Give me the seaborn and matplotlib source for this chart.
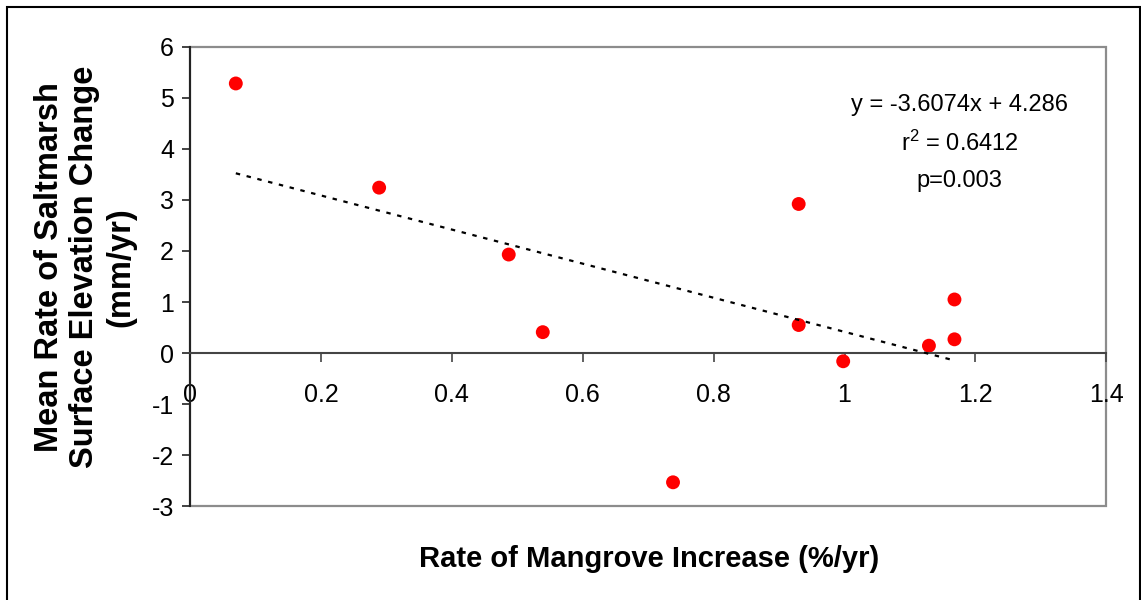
import numpy as np
import pandas as pd
import matplotlib
matplotlib.use("Agg")
import matplotlib.pyplot as plt
from matplotlib.patches import Rectangle
import seaborn as sns

# ---- data ----
mangrove_rate = [0.07, 0.289, 0.487, 0.539, 0.738, 0.93, 0.93, 0.998, 1.129, 1.168, 1.168]
elev_change = [5.28, 3.24, 1.93, 0.41, -2.53, 2.92, 0.55, -0.16, 0.145, 1.05, 0.27]
x_ticks = [0, 0.2, 0.4, 0.6, 0.8, 1.0, 1.2, 1.4]
x_tick_labels = ["0", "0.2", "0.4", "0.6", "0.8", "1", "1.2", "1.4"]
y_ticks = [-3, -2, -1, 0, 1, 2, 3, 4, 5, 6]
y_tick_labels = ["-3", "-2", "-1", "0", "1", "2", "3", "4", "5", "6"]
annot_lines = ["y = -3.6074x + 4.286", "r$^2$ = 0.6412", "p=0.003"]
x_label = "Rate of Mangrove Increase (%/yr)"
y_label = "Mean Rate of Saltmarsh\nSurface Elevation Change\n(mm/yr)"

df = pd.DataFrame({"x": mangrove_rate, "y": elev_change})

sns.set_theme(style="white")
plt.rcParams["font.family"] = ["Liberation Sans", "DejaVu Sans"]
plt.rcParams["mathtext.fontset"] = "custom"
plt.rcParams["mathtext.rm"] = "Liberation Sans"
plt.rcParams["mathtext.it"] = "Liberation Sans"
plt.rcParams["axes.unicode_minus"] = False

W, H = 1141, 600
fig = plt.figure(figsize=(W / 100, H / 100), dpi=100)
fig.patch.set_facecolor("white")
ax = fig.add_axes([190 / W, 1 - 506.3 / H, 916.3 / W, 459.6 / H])

# regression trend line (dotted) and points
sns.regplot(data=df, x="x", y="y", scatter=False, ci=None, truncate=True, ax=ax,
            line_kws=dict(color="black", lw=1.6, ls=(0, (2, 3)), zorder=3))
sns.scatterplot(data=df, x="x", y="y", color="#ff0000", s=100, edgecolor="none",
                ax=ax, zorder=2)

ax.set_xlim(0, 1.4)
ax.set_ylim(-3, 6)
ax.set_xticks(x_ticks)
ax.set_xticklabels(x_tick_labels)
ax.set_yticks(y_ticks)
ax.set_yticklabels(y_tick_labels)

# plot-area frame (gray) and axes lines
ax.patch.set_edgecolor("#8c8c8c")
ax.patch.set_linewidth(1.6)
for s in ("top", "right"):
    ax.spines[s].set_visible(False)
ax.spines["left"].set_color("#222222")
ax.spines["left"].set_linewidth(1.5)
ax.spines["bottom"].set_position(("data", 0))
ax.spines["bottom"].set_color("#444444")
ax.spines["bottom"].set_linewidth(1.5)

ax.tick_params(axis="x", direction="out", length=6.5, width=1.2, color="#444444",
               pad=15, labelsize=18, labelcolor="black", bottom=True)
ax.tick_params(axis="y", direction="out", length=5.5, width=1.2, color="#222222",
               pad=6, labelsize=18, labelcolor="black", left=True)

ax.set_xlabel(x_label, fontsize=21, fontweight="bold", color="black")
ax.xaxis.set_label_coords(0.501, -0.115)
ax.xaxis.label.set_verticalalignment("center")

ax.set_ylabel(y_label, fontsize=23.5, fontweight="bold", color="black",
              linespacing=1.2, multialignment="center")
ax.yaxis.set_label_coords(-0.1146, 0.52)
ax.yaxis.label.set_verticalalignment("center")

for i, line in enumerate(annot_lines):
    ax.text(0.84, 0.874 - i * 0.0835, line, transform=ax.transAxes, ha="center",
            va="center", fontsize=17, color="black")

# outer chart border
fig.patches.append(Rectangle((7 / W, -0.02), (1140 - 7) / W, 1.02 - 7 / H,
                             transform=fig.transFigure, fill=False,
                             edgecolor="black", lw=1.5))

fig.savefig("out.png", dpi=100)
